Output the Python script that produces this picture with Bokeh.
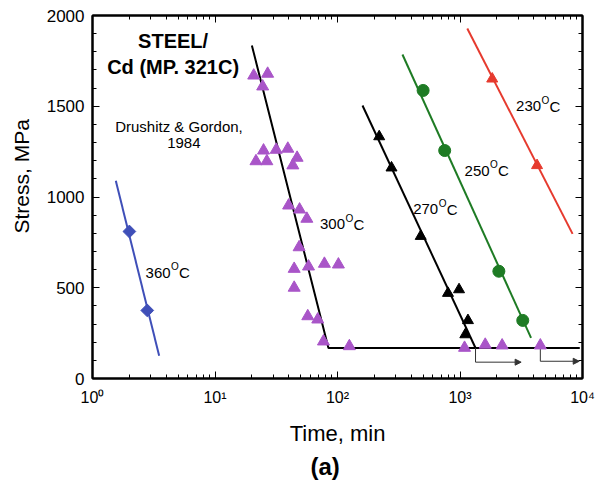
from bokeh.plotting import figure
from bokeh.models import (FixedTicker, LogAxis, LinearAxis, Label, Arrow, NormalHead,
                          CustomJSTickFormatter, ColumnDataSource, Title)
from bokeh.core.properties import value
from bokeh.embed import file_html
from bokeh.resources import INLINE

FONT = "Liberation Sans"

# ---- data: time to failure (min) vs applied stress (MPa) ----
# 360 C
t360 = [2.0, 2.8]
s360 = [810, 375]
fit360_t = [1.55, 3.5]
fit360_s = [1090, 125]

# 300 C
t300 = [20.7, 26.9, 24.5, 24.9, 31.6, 39.3, 21.6, 26.5, 46.8, 43.2,
        39.9, 49.0, 56.2, 48.6, 44.3, 58.0, 78.2, 101.7, 44.3, 57.2,
        69.0, 76.8, 125, 1089, 1607, 2208, 4527]
s300 = [1669, 1679, 1609, 1256, 1260, 1266, 1197, 1197, 1216, 1174,
        953, 931, 880, 723, 604, 617, 632, 628, 500, 343,
        325, 204, 178, 169, 186, 182, 182]
fit300_t = [20.0, 84.3, 9500]
fit300_s = [1835, 168, 168]

# 270 C
t270 = [219, 276, 478, 798, 982, 1161, 1105]
s270 = [1333, 1161, 784, 470, 490, 320, 242]
fit270_t = [160, 1339]
fit270_s = [1504, 168]

# 250 C
t250 = [500, 750, 2076, 3253]
s250 = [1587, 1256, 591, 320]
fit250_t = [339, 3802]
fit250_s = [1785, 224]

# 230 C
t230 = [1832, 4256]
s230 = [1651, 1174]
fit230_t = [1147, 8300]
fit230_s = [1928, 797]

# run-out (no failure) markers
runout_t0 = [1339, 4527]
runout_t1 = [3155, 9400]
runout_top = [168, 168]
runout_s = [90, 95]

# temperature labels
temp_labels = ["360", "300", "270", "250", "230"]
temp_label_t = [2.71, 72.0, 414.6, 1090, 2871]
temp_label_s = [584, 850, 932, 1146, 1501]

# axis ticks
x_major = [1, 10, 100, 1000, 10000]
x_minor = [k * 10 ** d for d in range(4) for k in range(2, 10)]
x_exponents = [0, 1, 2, 3, 4]
y_major = [0, 500, 1000, 1500, 2000]
y_minor = list(range(0, 2001, 100))

SUP = str.maketrans("0123456789", "\u2070\u00b9\u00b2\u00b3\u2074\u2075\u2076\u2077\u2078\u2079")
x_tick_labels = {t: "10" + str(e).translate(SUP) for t, e in zip(x_major, x_exponents)}

BLUE = "#3f4fb8"
PURPLE = "#a955c8"
GREEN = "#1e7b24"
RED = "#e63a2e"
GREY = "#333333"

p = figure(width=596, height=485, x_axis_type="log",
           x_range=(1, 1e4), y_range=(0, 2000),
           min_border_left=90, min_border_right=14,
           min_border_top=15, min_border_bottom=107,
           output_backend="svg", toolbar_location=None)
p.xgrid.grid_line_color = None
p.ygrid.grid_line_color = None
p.outline_line_color = "black"
p.outline_line_width = 2
p.background_fill_color = "white"
p.border_fill_color = "white"

xticker = FixedTicker(ticks=x_major, minor_ticks=x_minor)
yticker = FixedTicker(ticks=y_major, minor_ticks=y_minor)


def style_axis(ax, show_labels):
    ax.axis_line_width = 2
    ax.axis_line_color = "black"
    ax.major_tick_in = 7
    ax.major_tick_out = 0
    ax.minor_tick_in = 4
    ax.minor_tick_out = 0
    ax.major_tick_line_color = "black"
    ax.minor_tick_line_color = "black"
    ax.major_label_text_font = FONT
    ax.major_label_text_color = "black"
    if show_labels:
        ax.major_label_text_font_size = "17px"
        ax.major_label_standoff = 8
    else:
        ax.formatter = CustomJSTickFormatter(code="return ''")
        ax.major_label_text_font_size = "0px"
        ax.major_label_standoff = 0


xa = p.xaxis[0]
xa.ticker = xticker
style_axis(xa, True)
xa.major_label_overrides = x_tick_labels
xa.major_label_text_font_size = "16px"
xa.major_label_standoff = 10
xa.axis_label = "Time, min"
xa.axis_label_text_font = FONT
xa.axis_label_text_font_size = "22px"
xa.axis_label_text_font_style = "normal"
xa.axis_label_text_color = "black"
xa.axis_label_standoff = 12

ya = p.yaxis[0]
ya.ticker = yticker
style_axis(ya, True)

top = LogAxis(ticker=xticker)
style_axis(top, False)
p.add_layout(top, "above")
right = LinearAxis(ticker=yticker)
style_axis(right, False)
p.add_layout(right, "right")

# y axis title, sitting a little above the frame centre
p.add_layout(Title(text="Stress, MPa", text_font=FONT, text_font_size="21px",
                   text_font_style="normal", text_color="black",
                   align="left", offset=145, vertical_align="top", standoff=18), "left")
# panel tag under the x axis title
p.add_layout(Title(text="(a)", text_font=FONT, text_font_size="24px",
                   text_font_style="bold", text_color="black",
                   align="left", offset=218, standoff=4), "below")

# ---- fitted lines ----
p.line(fit360_t, fit360_s, line_color=BLUE, line_width=2)
p.line(fit300_t, fit300_s, line_color="black", line_width=2)
p.line(fit270_t, fit270_s, line_color="black", line_width=2)
p.line(fit250_t, fit250_s, line_color=GREEN, line_width=2)
p.line(fit230_t, fit230_s, line_color=RED, line_width=2)

# ---- run-out arrows ----
ro = ColumnDataSource(dict(t0=runout_t0, t1=runout_t1, top=runout_top, s=runout_s))
p.segment(x0="t0", y0="top", x1="t0", y1="s", source=ro, line_color=GREY, line_width=1)
p.add_layout(Arrow(end=NormalHead(size=6, fill_color=GREY, line_color=GREY),
                   x_start="t0", y_start="s", x_end="t1", y_end="s",
                   source=ro, line_color=GREY, line_width=1))

# ---- data points ----
p.scatter(t360, s360, marker="square", angle=0.785398, size=9,
          fill_color=BLUE, line_color=BLUE)
p.scatter(t300, s300, marker="triangle", size=12, fill_color=PURPLE, line_color=PURPLE)
p.scatter(t270, s270, marker="triangle", size=11, fill_color="black", line_color="black")
p.scatter(t250, s250, marker="circle", size=12, fill_color=GREEN, line_color=GREEN)
p.scatter(t230, s230, marker="triangle", size=11, fill_color=RED, line_color=RED)

# ---- temperature labels (value, superscript O, C) ----
p.text(temp_label_t, temp_label_s, text=temp_labels, text_font=value(FONT),
       text_font_size="15px", text_baseline="alphabetic", text_align="left",
       text_color="black")
p.text(temp_label_t, temp_label_s, text=["O"] * len(temp_labels), text_font=value(FONT),
       text_font_size="10px", text_baseline="alphabetic", text_align="left",
       x_offset=25.5, y_offset=-6, text_color="black")
p.text(temp_label_t, temp_label_s, text=["C"] * len(temp_labels), text_font=value(FONT),
       text_font_size="15px", text_baseline="alphabetic", text_align="left",
       x_offset=33.5, text_color="black")


def label(x, y, text, size, bold=False, align="center"):
    p.add_layout(Label(x=x, y=y, text=text, text_font=FONT, text_font_size=size,
                       text_font_style="bold" if bold else "normal",
                       text_align=align, text_baseline="alphabetic",
                       text_color="black"))


# material / source notes
label(4.55, 1858, "STEEL/", "20px", bold=True)
label(4.55, 1716, "Cd (MP. 321C)", "20px", bold=True)
label(5.08, 1388, "Drushitz & Gordon,", "15px")
label(5.57, 1296, "1984", "15px")

open("out.html", "w").write(file_html(p, INLINE))
